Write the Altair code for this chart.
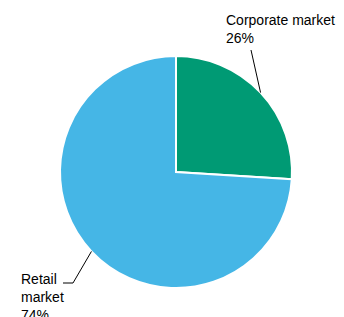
import math
import altair as alt
import pandas as pd

# data
categories = ["Corporate market", "Retail market"]
shares = [26, 74]
label_lines = [["Corporate market", "26%"], ["Retail", "market", "74%"]]
colors = ["#009a74", "#45b6e6"]

# layout (plot-area pixels)
CX, CY, R = 168, 164, 116
label_pos = [(218, 6), (13, 265)]            # text anchor (left, top)
elbows = [[(243, 42)], [(65, 275), (55, 275)]]  # leader line path after arc point

df = pd.DataFrame({"category": categories, "share": shares, "order": [0, 1]})

# leader lines from the middle of each slice (derived from data)
total = sum(shares)
segs = []
cum = 0
for i, s in enumerate(shares):
    mid = (cum + s / 2) / total * 2 * math.pi
    cum += s
    pts = [(CX + R * math.sin(mid), CY - R * math.cos(mid))] + elbows[i]
    for (x1, y1), (x2, y2) in zip(pts[:-1], pts[1:]):
        segs.append({"x": x1, "y": y1, "x2": x2, "y2": y2})
seg_df = pd.DataFrame(segs)

txt_df = pd.DataFrame({
    "label": label_lines,
    "x": [p[0] for p in label_pos],
    "y": [p[1] for p in label_pos],
})

pie = alt.Chart(df).mark_arc(radius=R, stroke="white", strokeWidth=2).encode(
    theta=alt.Theta("share:Q", stack=True),
    order=alt.Order("order:Q"),
    color=alt.Color("category:N", scale=alt.Scale(domain=categories, range=colors), legend=None),
    x=alt.value(CX),
    y=alt.value(CY),
)

rules = alt.Chart(seg_df).mark_rule(color="black", strokeWidth=1).encode(
    x=alt.X("x:Q", scale=None),
    y=alt.Y("y:Q", scale=None),
    x2="x2:Q",
    y2="y2:Q",
)

texts = alt.Chart(txt_df).mark_text(
    align="left", baseline="top", font="Liberation Sans", fontSize=14,
    lineHeight=18, color="black",
).encode(
    x=alt.X("x:Q", scale=None),
    y=alt.Y("y:Q", scale=None),
    text="label",
)

chart = alt.layer(pie, rules, texts).properties(
    width=328, height=320, padding=0,
    autosize=alt.AutoSizeParams(type="none"),
).configure_view(stroke=None)

chart.save("out.html", embed_options={"renderer": "svg", "actions": False})
